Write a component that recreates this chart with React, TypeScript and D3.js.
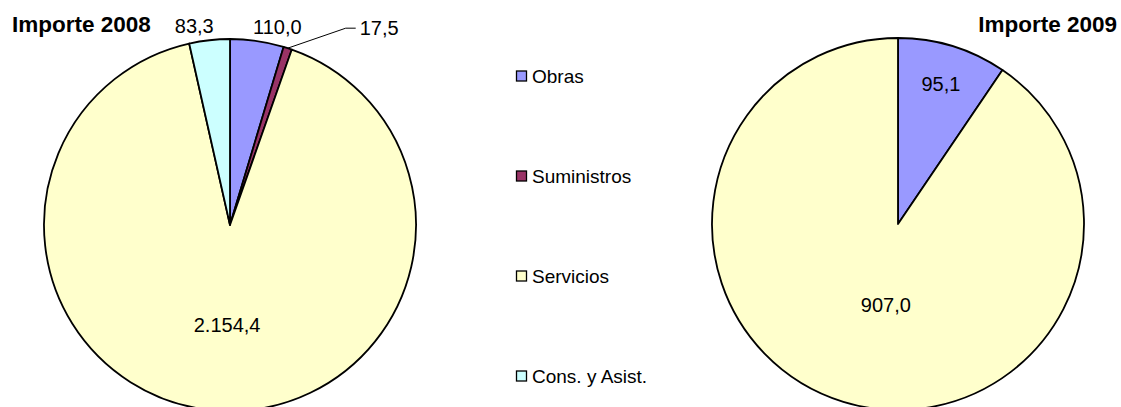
import React, { useEffect, useRef } from 'react';
import * as d3 from 'd3';

// categories and values (millions)
const categories = ['Obras', 'Suministros', 'Servicios', 'Cons. y Asist.'];
const colors = ['#9999FF', '#993366', '#FFFFCC', '#CCFFFF'];
const values2008 = [110.0, 17.5, 2154.4, 83.3];
const values2009 = [95.1, 0, 907.0, 0];
const titles = ['Importe 2008', 'Importe 2009'];

const fmt = (v: number) => {
  const s = v.toFixed(1).replace('.', ',');
  const [int, dec] = s.split(',');
  return int.replace(/\B(?=(\d{3})+(?!\d))/g, '.') + ',' + dec;
};

const W = 1121;
const H = 407;

const App: React.FC = () => {
  const svgRef = useRef<SVGSVGElement>(null);

  useEffect(() => {
    document.body.style.margin = '0';
    if (!svgRef.current) return;
    const svg = d3.select(svgRef.current);
    svg.selectAll('*').remove();

    const R = 186;
    const font = 'Arial, "Liberation Sans", sans-serif';
    const pie = d3.pie<number>().sort(null).value(d => d);
    const arc = d3.arc<d3.PieArcDatum<number>>().innerRadius(0).outerRadius(R);
    const at = (a: number, r: number) => [r * Math.sin(a), -r * Math.cos(a)];

    // pie 1 : 2008
    const g1 = svg.append('g').attr('transform', 'translate(230,225)');
    const arcs1 = pie(values2008);
    g1.selectAll('path')
      .data(arcs1)
      .join('path')
      .attr('d', arc)
      .attr('fill', (d, i) => colors[i])
      .attr('stroke', '#000')
      .attr('stroke-width', 1.8)
      .attr('stroke-linejoin', 'round');

    arcs1.forEach((d, i) => {
      const mid = (d.startAngle + d.endAngle) / 2;
      const label = g1.append('text')
        .attr('font-family', font)
        .attr('font-size', 20)
        .attr('fill', '#000')
        .text(fmt(d.value));
      if (i === 2) {
        // big slice: label pulled toward the bottom
        const [x, y] = at((mid + Math.PI) / 2, 100);
        label.attr('x', x).attr('y', y).attr('text-anchor', 'middle').attr('dy', '0.35em');
      } else if (i === 1) {
        const [x, y] = at(mid, R);
        const ex = x + 58, ey = y - 20;
        g1.append('path')
          .attr('d', `M${x},${y}L${ex},${ey}L${ex + 10},${ey}`)
          .attr('fill', 'none')
          .attr('stroke', '#000')
          .attr('stroke-width', 1);
        label.attr('x', ex + 14).attr('y', ey).attr('dy', '0.35em');
      } else {
        const [x, y] = at(mid, R + 7);
        const left = x < 0;
        label.attr('x', x + (left ? 5 : -5)).attr('y', y)
          .attr('text-anchor', left ? 'end' : 'start');
      }
    });

    // pie 2 : 2009
    const g2 = svg.append('g').attr('transform', 'translate(898,224)');
    const arcs2 = pie(values2009).filter(d => d.value > 0);
    g2.selectAll('path')
      .data(arcs2)
      .join('path')
      .attr('d', arc)
      .attr('fill', d => colors[d.index])
      .attr('stroke', '#000')
      .attr('stroke-width', 1.8)
      .attr('stroke-linejoin', 'round');

    arcs2.forEach(d => {
      const mid = (d.startAngle + d.endAngle) / 2;
      const [x, y] = d.index === 0 ? at(mid, 146) : at((mid + Math.PI) / 2, 82);
      g2.append('text')
        .attr('x', x).attr('y', y)
        .attr('dy', '0.35em')
        .attr('text-anchor', 'middle')
        .attr('font-family', font)
        .attr('font-size', 20)
        .text(fmt(d.value));
    });

    // titles
    svg.append('text')
      .attr('x', 12).attr('y', 32)
      .attr('font-family', font)
      .attr('font-weight', 'bold')
      .attr('font-size', 22.5)
      .text(titles[0]);
    svg.append('text')
      .attr('x', 1117).attr('y', 32)
      .attr('text-anchor', 'end')
      .attr('font-family', font)
      .attr('font-weight', 'bold')
      .attr('font-size', 22.5)
      .text(titles[1]);

    // legend
    const legend = svg.append('g')
      .selectAll('g')
      .data(categories)
      .join('g')
      .attr('transform', (d, i) => `translate(516,${76 + i * 100})`);

    legend.append('rect')
      .attr('x', 0.5).attr('y', -5)
      .attr('width', 10).attr('height', 10)
      .attr('fill', (d, i) => colors[i])
      .attr('stroke', '#000')
      .attr('stroke-width', 1.3);

    legend.append('text')
      .attr('x', 16).attr('y', 0)
      .attr('dy', '0.35em')
      .attr('font-family', font)
      .attr('font-size', 19)
      .text(d => d);
  }, []);

  return <svg ref={svgRef} width={W} height={H} style={{ display: 'block', background: '#fff' }} />;
};

export default App;
